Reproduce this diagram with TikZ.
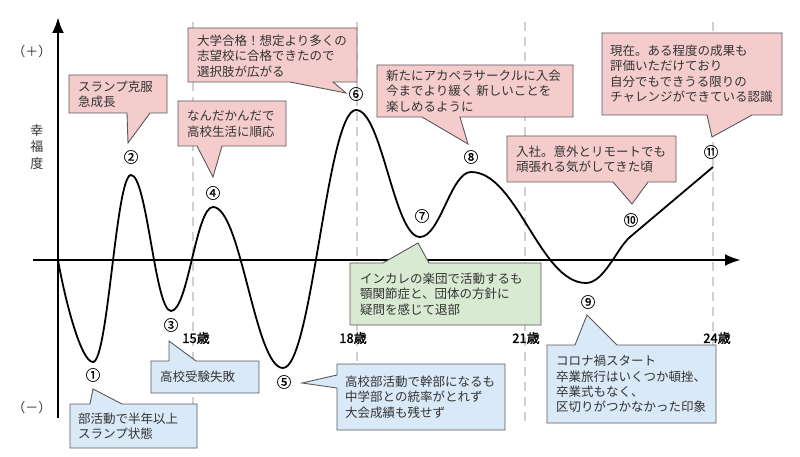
\documentclass[tikz,border=0pt]{standalone}
\usepackage{fontspec}
\setmainfont{Noto Sans CJK JP}
\newfontfamily\agefont[FakeBold=1.6]{Noto Sans CJK JP}
\newfontfamily\numfont[FakeBold=0.4]{Noto Sans CJK JP}
\usetikzlibrary{arrows.meta}
\definecolor{pinkfill}{HTML}{F4CCCC}
\definecolor{bluefill}{HTML}{DAE9F7}
\definecolor{greenfill}{HTML}{D9EAD3}
\definecolor{boxline}{HTML}{595959}
\definecolor{dashgray}{HTML}{D0D0D0}
\definecolor{txt}{HTML}{333333}
\begin{document}
\begin{tikzpicture}[x=1pt,y=-1pt,
  callout/.style={draw=boxline, line width=0.9pt, line join=miter},
  ctext/.style={anchor=west, align=left, inner sep=0pt, text=txt, font=\fontsize{12.5}{15.4}\selectfont},
  num/.style={inner sep=0pt, text=black, font=\numfont\fontsize{14.5}{14.5}\selectfont},
  age/.style={inner sep=0pt, text=black, font=\agefont\fontsize{13}{13}\selectfont},
  sidelabel/.style={inner sep=0pt, text=txt, align=center, font=\fontsize{13}{16.5}\selectfont},
  guide/.style={dashgray, line width=2.4pt, dash pattern=on 9pt off 6pt},
  axisline/.style={line width=2.8pt, -{Latex[length=16pt,width=12pt]}},
  curve/.style={line width=1.8pt, line join=round}]
\useasboundingbox (0,0) rectangle (800,457);
\fill[white] (0,0) rectangle (800,457);

% guides
\draw[guide] (193,22) -- (193,422);
\draw[guide] (357,22) -- (357,422);
\draw[guide] (525,22) -- (525,422);
\draw[guide] (713,22) -- (713,422);

% axes
\coordinate (O) at (58,260);
\coordinate (ytip) at (58,17);
\coordinate (ybot) at (58,418);
\coordinate (xl) at (33,260);
\coordinate (xtip) at (741,260);
\draw[axisline] (ybot) -- (ytip);
\draw[axisline] (xl) -- (xtip);

% curve
\coordinate (p1) at (93,362);
\coordinate (p2) at (131,175);
\coordinate (p3) at (171,311);
\coordinate (p4) at (213,207);
\coordinate (p5) at (283,368);
\coordinate (p6) at (356,110);
\coordinate (p7) at (420,237);
\coordinate (p8) at (471,172);
\coordinate (p9) at (586,283);
\coordinate (p10) at (630,237);
\coordinate (p11) at (713,167);
\draw[curve] (O) .. controls (65,300) and (81,362) .. (p1)
  .. controls +(15,0) and +(-15,0) .. (p2)
  .. controls +(16,0) and +(-16,0) .. (p3)
  .. controls +(17,0) and +(-17,0) .. (p4)
  .. controls +(28,0) and +(-28,0) .. (p5)
  .. controls +(29,0) and +(-29,0) .. (p6)
  .. controls +(26,0) and +(-26,0) .. (p7)
  .. controls +(20,0) and +(-20,0) .. (p8)
  .. controls +(46,0) and +(-46,0) .. (p9)
  .. controls +(18,0) and +(-13,11) .. (p10)
  -- (p11);

% callouts (pink)
\draw[callout, fill=pinkfill] (69,75) -- (167,75) -- (167,113) -- (150,113) -- (128,143) -- (127,113) -- (69,113) -- cycle;
\node[ctext] (c2) at (78,94) {スランプ克服\\急成長};
\draw[callout, fill=pinkfill] (178,101) -- (286,101) -- (286,146) -- (222,146) -- (213,177) -- (197,146) -- (178,146) -- cycle;
\node[ctext] (c4) at (187,124) {なんだかんだで\\高校生活に順応};
\draw[callout, fill=pinkfill] (188,28) -- (357,28) -- (357,82) -- (333,82) -- (346,93) -- (290,82) -- (188,82) -- cycle;
\node[ctext] (c6) at (197,56) {大学合格！想定より多くの\\志望校に合格できたので\\選択肢が広がる};
\draw[callout, fill=pinkfill] (377,65) -- (573,65) -- (573,117) -- (460,117) -- (468,144) -- (422,117) -- (377,117) -- cycle;
\node[ctext] (c8) at (386,91) {新たにアカペラサークルに入会\\今までより緩く 新しいことを\\楽しめるように};
\draw[callout, fill=pinkfill] (507,136) -- (676,136) -- (676,182) -- (648,182) -- (632,204) -- (613,182) -- (507,182) -- cycle;
\node[ctext] (c10) at (516,159) {入社。意外とリモートでも\\頑張れる気がしてきた頃};
\draw[callout, fill=pinkfill] (602,33) -- (782,33) -- (782,115) -- (752,115) -- (712,137) -- (707,115) -- (602,115) -- cycle;
\node[ctext] (c11) at (610,74) {現在。ある程度の成果も\\評価いただけており\\自分でもできうる限りの\\チャレンジができている認識};

% callouts (blue)
\draw[callout, fill=bluefill] (70,404) -- (90,404) -- (93,389) -- (122,404) -- (197,404) -- (197,448) -- (70,448) -- cycle;
\node[ctext] (c1) at (78,426) {部活動で半年以上\\スランプ状態};
\draw[callout, fill=bluefill] (151,361) -- (169,361) -- (169,341) -- (196,361) -- (259,361) -- (259,393) -- (151,393) -- cycle;
\node[ctext] (c3) at (160,377) {高校受験失敗};
\draw[callout, fill=bluefill] (337,364) -- (505,364) -- (505,430) -- (337,430) -- (337,388) -- (302,383) -- (337,375) -- cycle;
\node[ctext] (c5) at (345,397) {高校部活動で幹部になるも\\中学部との統率がとれず\\大会成績も残せず};
\draw[callout, fill=bluefill] (547,345) -- (575,345) -- (587,315) -- (617,345) -- (716,345) -- (716,423) -- (547,423) -- cycle;
\node[ctext] (c9) at (556,384) {コロナ禍スタート\\卒業旅行はいくつか頓挫、\\卒業式もなく、\\区切りがつかなかった印象};

% callout (green)
\draw[callout, fill=greenfill] (350,263) -- (383,263) -- (418,243) -- (429,263) -- (541,263) -- (541,325) -- (350,325) -- cycle;
\node[ctext] (c7) at (360,294) {インカレの楽団で活動するも\\顎関節症と、団体の方針に\\疑問を感じて退部};

% numbers
\node[num] (n1) at (93,375) {①};
\node[num] (n2) at (131,157) {②};
\node[num] (n3) at (171,325) {③};
\node[num] (n4) at (213,193) {④};
\node[num] (n5) at (284,382) {⑤};
\node[num] (n6) at (356,94) {⑥};
\node[num] (n7) at (422,216) {⑦};
\node[num] (n8) at (471,157) {⑧};
\node[num] (n9) at (588,302) {⑨};
\node[num] (n10) at (631,220) {⑩};
\node[num] (n11) at (711,152) {⑪};

% ages
\node[age] (a15) at (196,338) {15歳};
\node[age] (a18) at (353,338) {18歳};
\node[age] (a21) at (526,338) {21歳};
\node[age] (a24) at (717,338) {24歳};

% side labels
\node[sidelabel] (plus) at (32,52) {（＋）};
\node[sidelabel] (minus) at (32,408) {（－）};
\node[sidelabel] (happy) at (37,147) {幸\\福\\度};
\end{tikzpicture}
\end{document}
